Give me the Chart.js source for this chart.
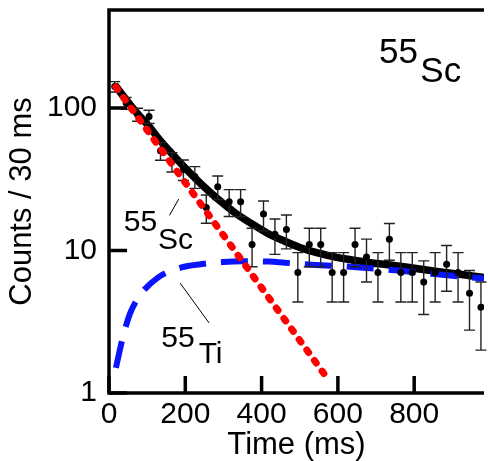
<!DOCTYPE html>
<html><head><meta charset="utf-8">
<script src="https://cdn.jsdelivr.net/npm/chart.js@4.4.1/dist/chart.umd.min.js"></script>
<style>html,body{margin:0;padding:0;background:#fff;}canvas{display:block;}</style>
</head><body>
<canvas id="c" width="488" height="461"></canvas>
<script>
// ---- data ----
const binTimes = [15,45,75,105,135,165,195,225,255,285,315,345,375,405,435,465,495,525,555,585,615,645,675,705,735,765,795,825,855,885,915,945,975];
const counts   = [141,108,90,87,50,42,37,33,20,28,22,22,11,18,13,14,7,11,11,7,7,11,9,7,12,7,7,6,7,8,7,5,4];
const countErrors = [11.87,10.39,9.49,9.33,7.07,6.48,6.08,5.74,4.47,5.29,4.69,4.69,3.32,4.24,3.61,3.74,2.65,3.32,3.32,2.65,2.65,3.32,3.0,2.65,3.46,2.65,2.65,2.45,2.65,2.83,2.65,2.24,2.0];

const totalFitT = [15,45,75,105,135,165,200,240,288,330,374,420,461,500,547,600,634,700,738,800,859,920,983];
const totalFitV = [145,114,91,74,58.7,47.7,37.8,29.5,22.6,18.4,15.4,13.0,11.6,10.5,9.6,8.9,8.6,8.1,7.9,7.5,7.13,6.8,6.45];

const tiFitT = [18,37,55,80,130,190,240,300,350,420,460,530,640,750,860,983];
const tiFitV = [1.5,2.5,3.6,4.8,6.5,7.6,8.0,8.3,8.4,8.35,8.2,7.95,7.65,7.25,6.8,6.35];

const scFitT = [18,575];
const scFitV = [140,1.24];

const xTickValues = [0,200,400,600,800];
const yTickValues = [1,10,100];

const FONT = "'Liberation Sans', Arial, sans-serif";

const toXY = (ts, vs) => ts.map((t,i)=>({x:t, y:vs[i]}));

const decor = {
  id: 'decor',
  beforeDatasetDraw(chart, args) {
    if (args.index !== 2) return;
    const ctx = chart.ctx, xs = chart.scales.x, ys = chart.scales.y;
    ctx.save();
    ctx.strokeStyle = '#222';
    ctx.lineWidth = 1.4;
    binTimes.forEach((t,i)=>{
      const px = xs.getPixelForValue(t);
      const top = ys.getPixelForValue(counts[i] + countErrors[i]);
      const bot = ys.getPixelForValue(Math.max(counts[i] - countErrors[i], 1));
      ctx.beginPath();
      ctx.moveTo(px, top); ctx.lineTo(px, bot);
      ctx.moveTo(px-5.5, top); ctx.lineTo(px+5.5, top);
      ctx.moveTo(px-5.5, bot); ctx.lineTo(px+5.5, bot);
      ctx.stroke();
    });
    ctx.restore();
  },
  afterDraw(chart) {
    const ctx = chart.ctx, a = chart.chartArea, xs = chart.scales.x, ys = chart.scales.y;
    ctx.save();
    ctx.strokeStyle = '#000';
    ctx.lineWidth = 3.5;
    ctx.lineCap = 'butt';
    ctx.beginPath();
    ctx.moveTo(a.left, a.top - 1.75); ctx.lineTo(a.left, a.bottom + 1.75);
    ctx.moveTo(a.left - 1.75, a.bottom); ctx.lineTo(a.right, a.bottom);
    ctx.moveTo(a.left - 1.75, a.top); ctx.lineTo(a.right, a.top);
    ctx.stroke();
    // inward major ticks
    ctx.beginPath();
    yTickValues.forEach(v=>{
      const py = ys.getPixelForValue(v);
      ctx.moveTo(a.left, py); ctx.lineTo(a.left + 18, py);
    });
    xTickValues.forEach(v=>{
      const px = xs.getPixelForValue(v);
      ctx.moveTo(px, a.bottom); ctx.lineTo(px, a.bottom - 17);
    });
    ctx.stroke();

    // annotations (anchored in data coordinates)
    ctx.fillStyle = '#000';
    ctx.textBaseline = 'alphabetic';
    ctx.textAlign = 'left';
    const txt = (s, t, v, size) => {
      ctx.font = size + 'px ' + FONT;
      ctx.fillText(s, xs.getPixelForValue(t), ys.getPixelForValue(v));
    };
    txt('55', 708, 206.7, 35);
    txt('Sc', 816, 152, 35);
    txt('55', 38.7, 13.59, 30);
    txt('Sc', 128.7, 10.2, 30);
    txt('55', 137.2, 2.114, 30);
    txt('Ti', 235, 1.633, 30);
    ctx.lineWidth = 1;
    ctx.strokeStyle = '#000';
    ctx.beginPath();
    ctx.moveTo(xs.getPixelForValue(158.5), ys.getPixelForValue(17.6));
    ctx.lineTo(xs.getPixelForValue(182.6), ys.getPixelForValue(22.9));
    ctx.moveTo(xs.getPixelForValue(186.3), ys.getPixelForValue(5.91));
    ctx.lineTo(xs.getPixelForValue(262.3), ys.getPixelForValue(3.10));
    ctx.stroke();
    ctx.restore();
  }
};

new Chart(document.getElementById('c').getContext('2d'), {
  type: 'scatter',
  data: {
    datasets: [
      { label: 'total fit', data: toXY(totalFitT, totalFitV), showLine: true, pointRadius: 0,
        borderColor: '#000', borderWidth: 7.5, cubicInterpolationMode: 'monotone', order: 3 },
      { label: '55Ti', data: toXY(tiFitT, tiFitV), showLine: true, pointRadius: 0,
        borderColor: '#0a14ff', borderWidth: 6, borderDash: [27, 15], cubicInterpolationMode: 'monotone', order: 2 },
      { label: 'data', data: toXY(binTimes, counts), showLine: false, pointRadius: 3.5,
        pointBackgroundColor: '#000', pointBorderWidth: 0, order: 1 },
      { label: '55Sc', data: toXY(scFitT, scFitV), showLine: true, pointRadius: 0,
        borderColor: '#ff0000', borderWidth: 7, borderDash: [3, 10], borderCapStyle: 'round', order: 0 }
    ]
  },
  options: {
    responsive: false,
    animation: false,
    layout: { padding: { top: 10, right: 0, bottom: 0, left: 0 } },
    plugins: { legend: { display: false }, tooltip: { enabled: false } },
    scales: {
      x: {
        type: 'linear', min: 0, max: 983,
        afterBuildTicks: s => { s.ticks = xTickValues.map(v=>({value:v})); },
        afterFit: s => { s.height = 68; s.paddingLeft = 0; s.paddingRight = 0; s.paddingTop = 0; s.paddingBottom = 0; },
        grid: { display: false, drawTicks: false },
        border: { display: false },
        ticks: { color: '#000', font: { family: FONT, size: 30 }, padding: 4, maxRotation: 0, autoSkip: false },
        title: { display: true, text: 'Time (ms)', color: '#000', font: { family: FONT, size: 31 }, padding: { top: 0, bottom: -3 } }
      },
      y: {
        type: 'logarithmic', min: 1, max: 486,
        afterBuildTicks: s => { s.ticks = yTickValues.map(v=>({value:v})); },
        afterFit: s => { s.width = 109; s.paddingTop = 0; s.paddingBottom = 0; s.paddingLeft = 0; s.paddingRight = 0; },
        grid: { display: false, drawTicks: false },
        border: { display: false },
        ticks: { color: '#000', font: { family: FONT, size: 30 }, padding: 12, autoSkip: false,
                 callback: v => String(v) },
        title: { display: true, text: 'Counts / 30 ms', color: '#000', font: { family: FONT, size: 31 }, padding: { top: 3.7, bottom: 0 } }
      }
    }
  },
  plugins: [decor]
});
</script>
</body></html>
